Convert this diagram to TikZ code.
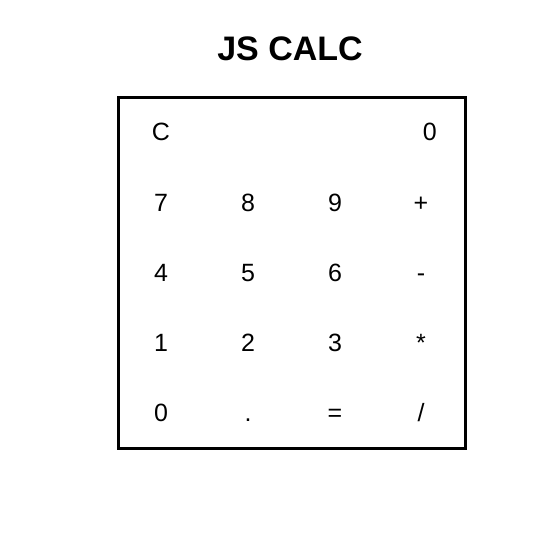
\documentclass[tikz,border=0pt]{standalone}
\usepackage{fontspec}
\setmainfont{Liberation Sans}
\begin{document}
\begin{tikzpicture}[x=1pt,y=-1pt,
  key/.style={inner sep=0pt, anchor=base, font=\fontsize{25}{25}\selectfont},
  title/.style={inner sep=0pt, anchor=base, font=\fontsize{34}{34}\selectfont\bfseries}]
\useasboundingbox (0,0) rectangle (560,560);
\node[title] (t) at (290,60) {JS CALC};
\draw[line width=3pt] (118.5,97.5) rectangle (465.5,448.5);
\node[key] (kc) at (161,140) {C};
\node[key,anchor=base east] (disp) at (437,140) {0};
\foreach \r/\y/\a/\b/\c/\d in {1/211/7/8/9/+, 2/281/4/5/6/-, 3/351/1/2/3/*, 4/421/0/./=/{/}}{
  \node[key] (k\r a) at (161,\y) {\a};
  \node[key] (k\r b) at (248,\y) {\b};
  \node[key] (k\r c) at (335,\y) {\c};
  \node[key] (k\r d) at (421,\y) {\d};
}
\end{tikzpicture}
\end{document}
